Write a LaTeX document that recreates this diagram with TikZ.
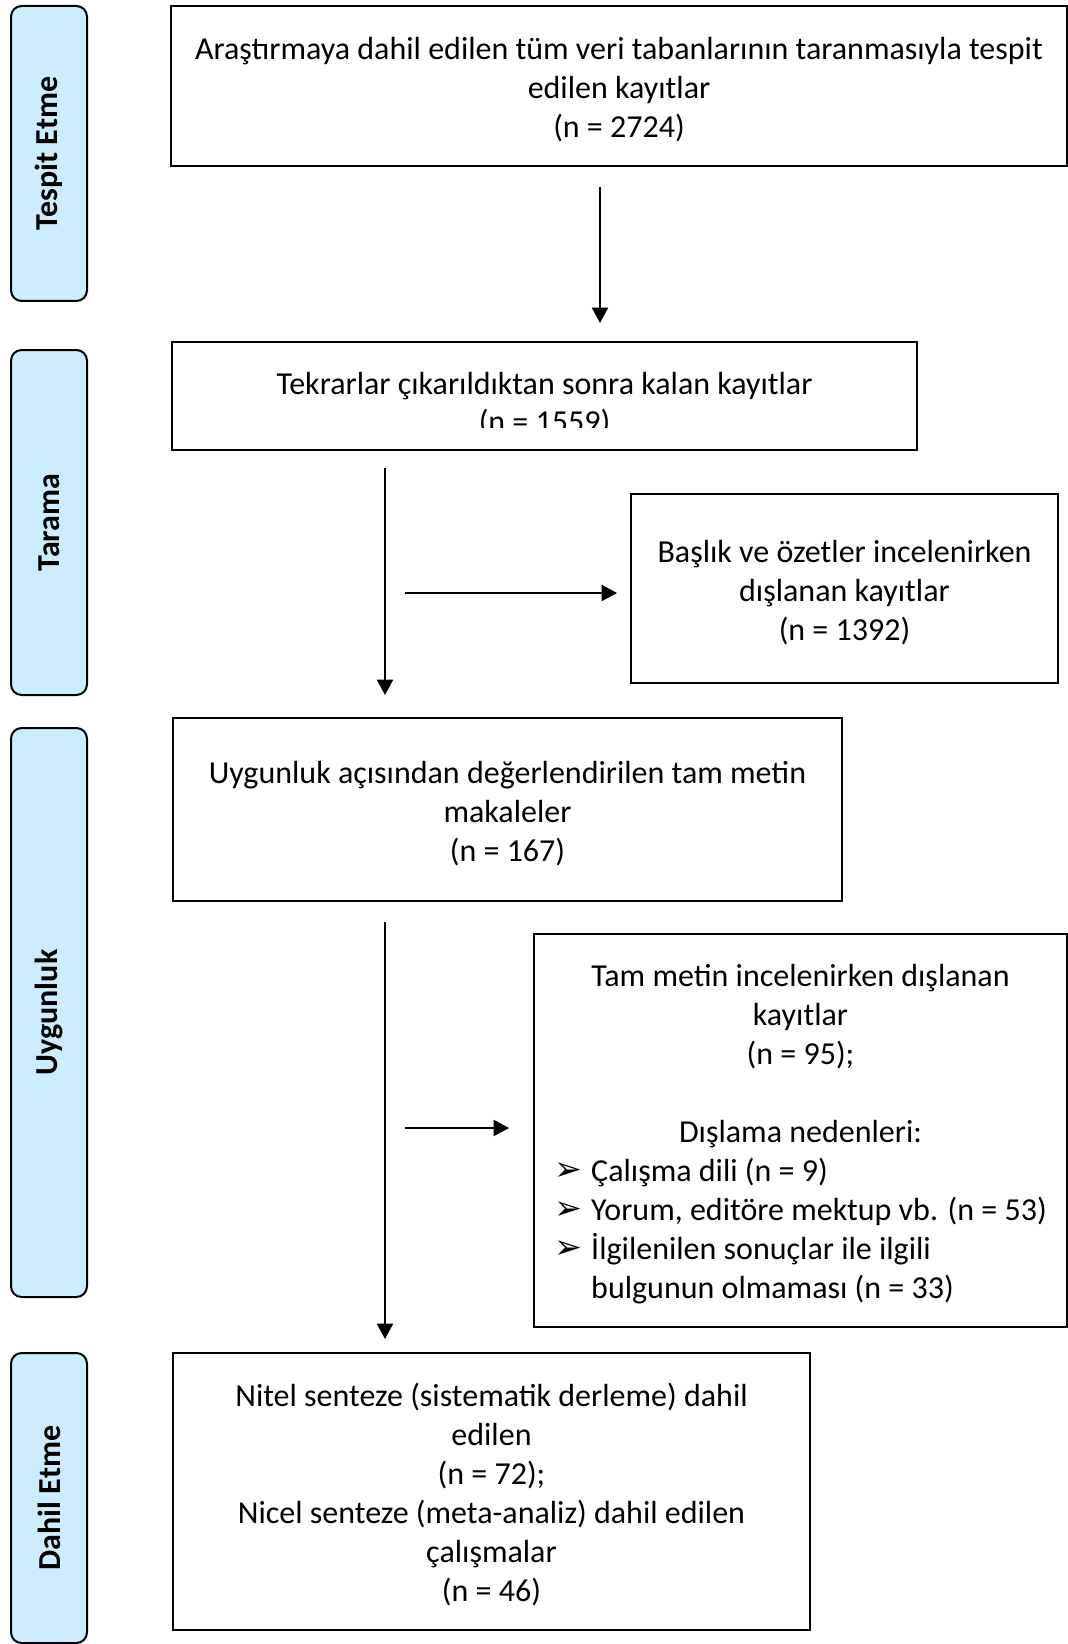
\documentclass[tikz,border=0pt]{standalone}
\usepackage{fontspec}
\setmainfont{Carlito}
\newfontfamily\symfont{DejaVu Sans}
\usetikzlibrary{arrows.meta}
\definecolor{sidefill}{HTML}{CCECFF}
\newcommand{\bul}{\makebox[27.75pt][l]{\raisebox{0.5pt}{\symfont\fontsize{25pt}{24pt}\selectfont ➢}}}
\begin{document}
\begin{tikzpicture}[x=0.75pt,y=-0.75pt,
  mainbox/.style={draw=black,line width=1.5pt,fill=white,inner sep=0pt},
  sidebox/.style={draw=black,line width=1.5pt,fill=sidefill,rounded corners=8pt,rotate=90,
    inner sep=0pt,font=\fontsize{24pt}{29pt}\selectfont\bfseries},
  txt/.style={inner sep=0pt,align=center,font=\fontsize{24pt}{29.25pt}\selectfont},
  arr/.style={line width=1.5pt,-{Triangle[length=11.5pt,width=12pt]}}]
\useasboundingbox (0,0) rectangle (1067,1644);
% side labels
\node[sidebox,minimum width=221.25pt,minimum height=57pt] (s1) at (49,153.5) {Tespit Etme};
\node[sidebox,minimum width=258.75pt,minimum height=57pt] (s2) at (49,522.5) {Tarama};
\node[sidebox,minimum width=426.75pt,minimum height=57pt] (s3) at (49,1012.5) {Uygunluk};
\node[sidebox,minimum width=217.5pt,minimum height=57pt] (s4) at (49,1498) {Dahil Etme};
% main boxes
\node[mainbox,minimum width=672pt,minimum height=120pt] (b1) at (619,86) {};
\node[txt] (t1) at ([yshift=-3pt]b1.center)
  {Araştırmaya dahil edilen tüm veri tabanlarının taranmasıyla tespit\\ edilen kayıtlar\\ (n = 2724)};
\node[mainbox,minimum width=558.75pt,minimum height=81pt] (b2) at (544.5,396) {};
\begin{scope}
  \clip (172,342) rectangle (917,427);
  \node[txt,anchor=base] (t2a) at (544.5,394) {Tekrarlar çıkarıldıktan sonra kalan kayıtlar};
  \node[txt,anchor=base] (t2b) at (544.5,432) {(n = 1559)};
\end{scope}
\node[mainbox,minimum width=320.25pt,minimum height=141.75pt] (b3) at (844.5,588.5) {};
\node[txt] (t3) at ([yshift=-3pt]b3.center)
  {Başlık ve özetler incelenirken\\ dışlanan kayıtlar\\ (n = 1392)};
\node[mainbox,minimum width=501.75pt,minimum height=137.25pt] (b4) at (507.5,809.5) {};
\node[txt] (t4) at ([yshift=-3pt]b4.center)
  {Uygunluk açısından değerlendirilen tam metin\\ makaleler\\ (n = 167)};
\node[mainbox,minimum width=399.75pt,minimum height=294.75pt] (b5) at (800.5,1130.5) {};
\node[inner sep=0pt,font=\fontsize{24pt}{29.25pt}\selectfont] (t5) at ([yshift=-3pt]b5.center)
  {\renewcommand{\arraystretch}{1}%
   \begin{tabular}{@{}l@{}l@{}}
   \multicolumn{2}{@{}c@{}}{Tam metin incelenirken dışlanan}\\
   \multicolumn{2}{@{}c@{}}{kayıtlar}\\
   \multicolumn{2}{@{}c@{}}{(n = 95);}\\
   \multicolumn{2}{@{}c@{}}{}\\
   \multicolumn{2}{@{}c@{}}{Dışlama nedenleri:}\\
   \bul & Çalışma dili (n = 9)\\
   \bul & Yorum, editöre mektup vb. (n = 53)\\
   \bul & İlgilenilen sonuçlar ile ilgili\\
        & bulgunun olmaması (n = 33)
   \end{tabular}};
\node[mainbox,minimum width=477.75pt,minimum height=207.75pt] (b6) at (491.5,1491.5) {};
\node[txt] (t6) at ([yshift=-2pt]b6.center)
  {Nitel senteze (sistematik derleme) dahil\\ edilen\\ (n = 72);\\ Nicel senteze (meta-analiz) dahil edilen\\ çalışmalar\\ (n = 46)};
% arrow endpoints
\coordinate (a1s) at (600,187);  \coordinate (a1e) at (600,323);
\coordinate (a2s) at (385,468);  \coordinate (a2e) at (385,695);
\coordinate (h1s) at (405,593);  \coordinate (h1e) at (617,593);
\coordinate (a3s) at (385,922);  \coordinate (a3e) at (385,1339);
\coordinate (h2s) at (405,1128); \coordinate (h2e) at (509,1128);
\draw[arr] (a1s) -- (a1e);
\draw[arr] (a2s) -- (a2e);
\draw[arr] (h1s) -- (h1e);
\draw[arr] (a3s) -- (a3e);
\draw[arr] (h2s) -- (h2e);
\end{tikzpicture}
\end{document}
